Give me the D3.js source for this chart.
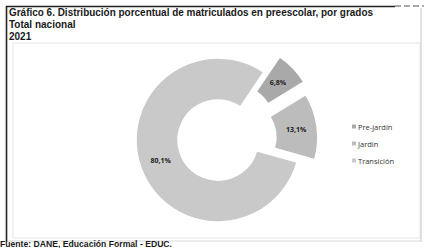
<!DOCTYPE html>
<html>
<head>
<meta charset="utf-8">
<script src="https://cdn.jsdelivr.net/npm/d3@7"></script>
<style>
  body { margin: 0; background: #fff; }
  svg { display: block; font-family: "Open Sans", "Noto Sans", sans-serif; }
  .title, .source { font-family: "Liberation Sans", Arial, sans-serif; }
</style>
</head>
<body>
<div id="chart"></div>
<script>
// data
var categories = ["Pre-jardín", "Jardín", "Transición"];
var values = [6.8, 13.1, 80.1];
var titleLines = ["Gráfico 6. Distribución porcentual de matriculados en preescolar, por grados", "Total nacional", "2021"];
var source = "Fuente: DANE, Educación Formal - EDUC.";

// look of the slices
var colors = { "Pre-jardín": "#a9a9a9", "Jardín": "#bcbcbc", "Transición": "#c9c9c9" };
var explode = { "Pre-jardín": 22, "Jardín": 18, "Transición": 0 };

var width = 427, height = 248;
var cx = 218, cy = 140;
var outerR = 82, innerR = 40;

var svg = d3.select('#chart').append('svg')
	.attr('width', width)
	.attr('height', height);

// frame of the scanned page
svg.append('rect') // chart area, very light
	.attr('x', 13).attr('y', 43).attr('width', 407).attr('height', 195)
	.attr('fill', 'none').attr('stroke', '#e6e6e6').attr('stroke-width', 1);
svg.append('line') // right edge
	.attr('x1', 421).attr('x2', 421).attr('y1', 8).attr('y2', 242)
	.attr('stroke', '#d0d0d0').attr('stroke-width', 1.2);
svg.append('line') // bottom edge
	.attr('x1', 6).attr('x2', 421).attr('y1', 241).attr('y2', 241)
	.attr('stroke', '#d8d8d8').attr('stroke-width', 1);
svg.append('line') // left black edge
	.attr('x1', 6.5).attr('x2', 6.5).attr('y1', 6).attr('y2', 242)
	.attr('stroke', '#222').attr('stroke-width', 1.6);
svg.append('line') // top black edge
	.attr('x1', 6).attr('x2', 395).attr('y1', 6.5).attr('y2', 6.5)
	.attr('stroke', '#222').attr('stroke-width', 1.6);
svg.append('line')
	.attr('x1', 395).attr('x2', 424).attr('y1', 6).attr('y2', 6)
	.attr('stroke', '#555').attr('stroke-width', 1).attr('stroke-dasharray', '6,3');

// titles
svg.selectAll('.title')
	.data(titleLines)
	.enter()
	.append('text')
	.attr('class', 'title')
	.attr('x', 9)
	.attr('y', function (d, i) { return 16 + i * 12; })
	.attr('font-size', 10)
	.attr('font-weight', 'bold')
	.attr('fill', '#1a1a1a')
	.attr('textLength', function (d, i) { return i === 0 ? 364 : null; })
	.attr('lengthAdjust', 'spacingAndGlyphs')
	.text(function (d) { return d; });

// donut
var dataset = categories.map(function (c, i) { return { name: c, value: values[i] }; });

var pie = d3.pie()
	.value(function (d) { return d.value; })
	.sort(null)
	.startAngle(34 * Math.PI / 180)
	.endAngle(34 * Math.PI / 180 + 2 * Math.PI);

var arc = d3.arc().innerRadius(innerR).outerRadius(outerR);
var labelArc = d3.arc().innerRadius((innerR + outerR) / 2).outerRadius((innerR + outerR) / 2);

var g = svg.append('g').attr('transform', 'translate(' + cx + ',' + cy + ')');

var slice = g.selectAll('.slice')
	.data(pie(dataset))
	.enter()
	.append('g')
	.attr('class', 'slice')
	.attr('transform', function (d) {
		var mid = (d.startAngle + d.endAngle) / 2;
		var off = explode[d.data.name];
		return 'translate(' + (off * Math.sin(mid)) + ',' + (-off * Math.cos(mid)) + ')';
	});

slice.append('path')
	.attr('d', arc)
	.attr('fill', function (d) { return colors[d.data.name]; })
	.attr('stroke', '#fff')
	.attr('stroke-width', 1.5);

slice.append('text')
	.attr('transform', function (d) { return 'translate(' + labelArc.centroid(d) + ')'; })
	.attr('text-anchor', 'middle')
	.attr('dy', '0.35em')
	.attr('font-size', 7)
	.attr('font-weight', 'bold')
	.attr('fill', '#222')
	.text(function (d) { return String(d.data.value.toFixed(1)).replace('.', ',') + '%'; });

// legend
var legend = svg.selectAll('.legend')
	.data(categories)
	.enter()
	.append('g')
	.attr('class', 'legend')
	.attr('transform', function (d, i) { return 'translate(352,' + (127 + i * 17) + ')'; });

legend.append('rect')
	.attr('x', 0).attr('y', -2.5)
	.attr('width', 4).attr('height', 4)
	.attr('fill', function (d) { return colors[d]; });

legend.append('text')
	.attr('x', 6)
	.attr('dy', '0.35em')
	.attr('font-size', 7.5)
	.attr('fill', '#333')
	.text(function (d) { return d; });

// source
svg.append('text')
	.attr('class', 'source')
	.attr('x', 0)
	.attr('y', 247)
	.attr('font-size', 8.5)
	.attr('font-weight', 'bold')
	.attr('fill', '#1a1a1a')
	.attr('textLength', 172)
	.attr('lengthAdjust', 'spacingAndGlyphs')
	.text(source);
</script>
</body>
</html>
